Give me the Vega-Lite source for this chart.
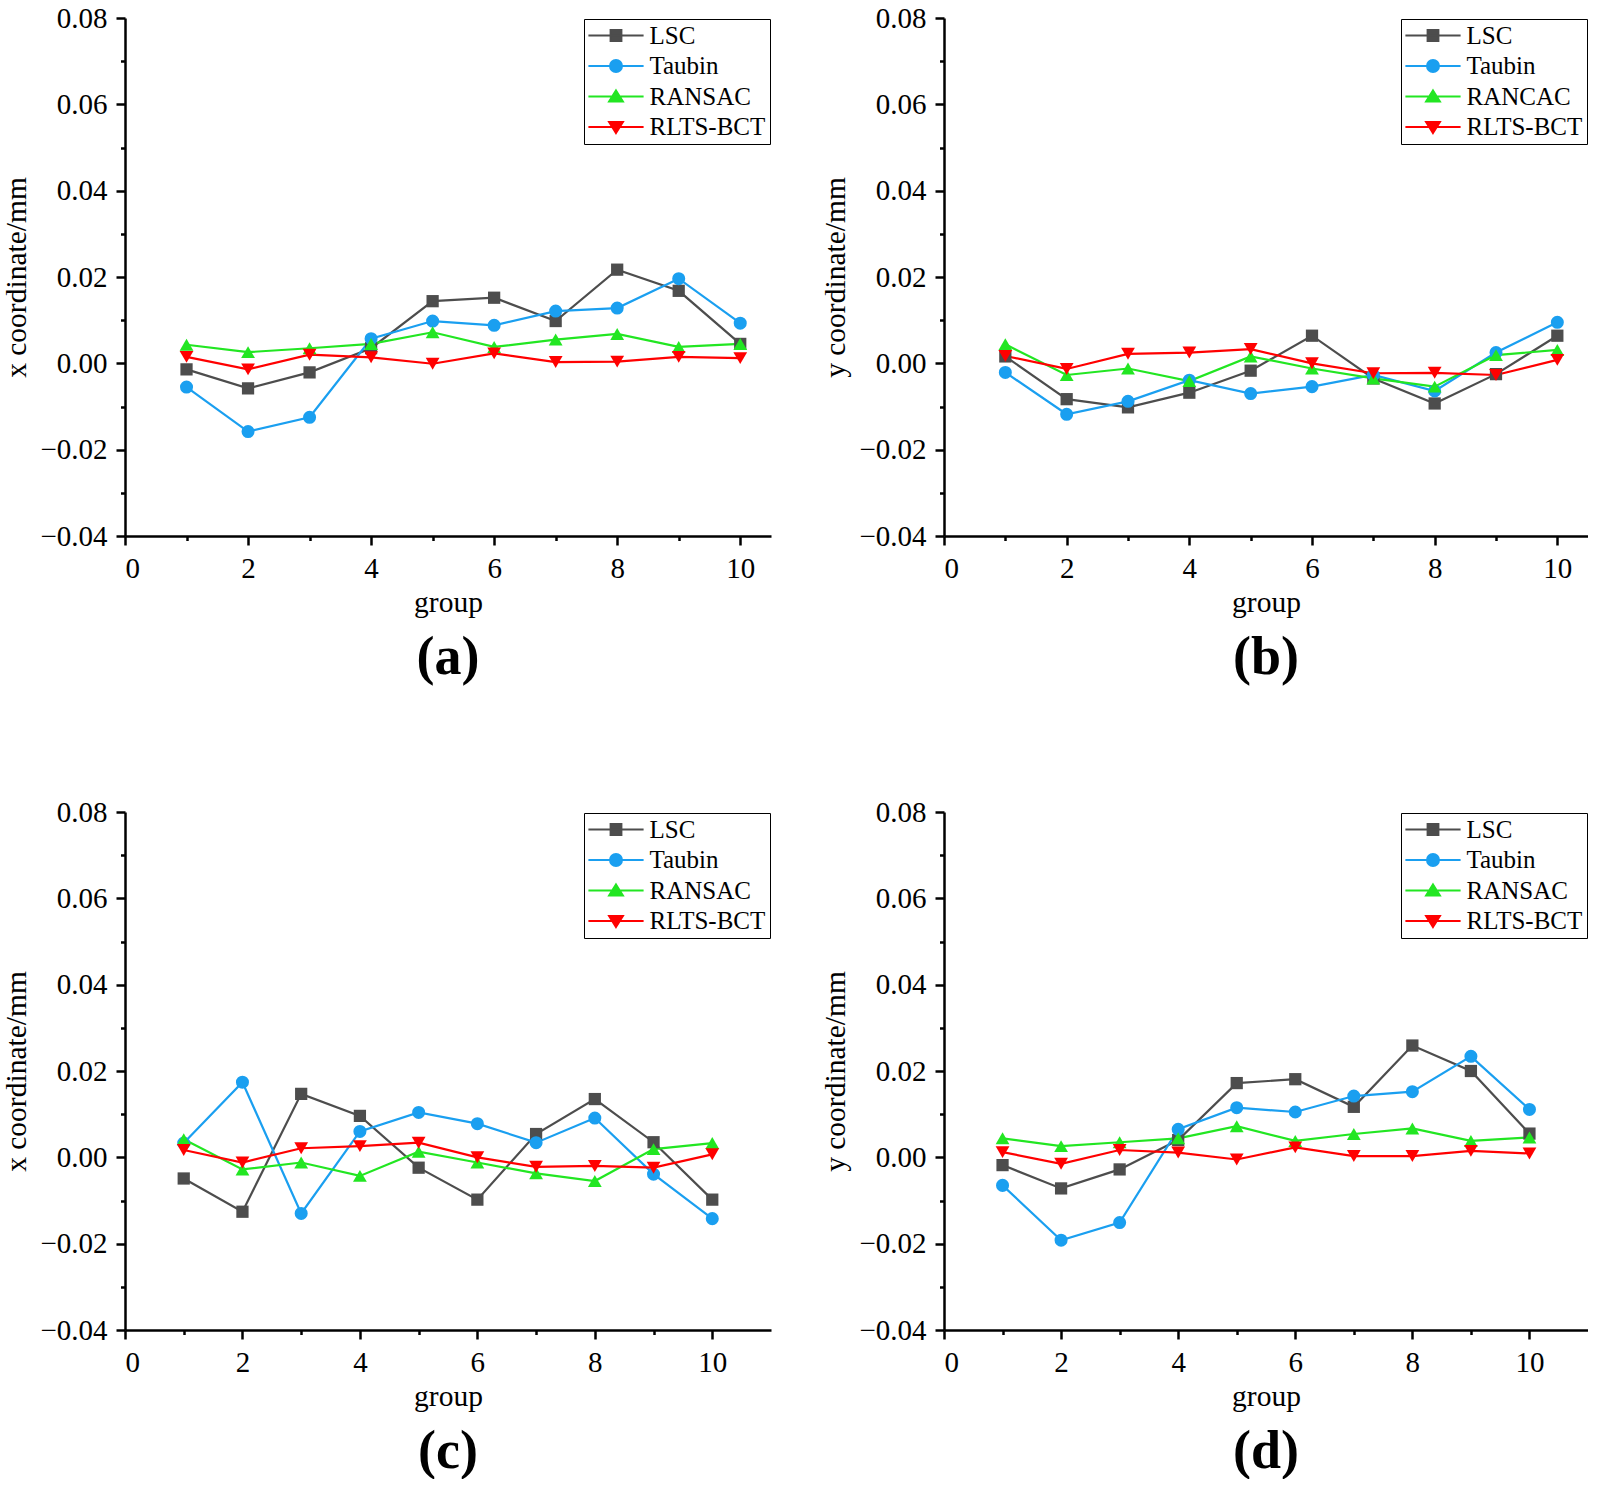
{
  "$schema": "https://vega.github.io/schema/vega-lite/v6.json",
  "background": "white",
  "padding": {"left": 1, "top": 4, "right": 0, "bottom": 0},
  "datasets": {
    "a": [
      {"group":1,"method":"LSC","value":-0.0014},{"group":2,"method":"LSC","value":-0.0058},{"group":3,"method":"LSC","value":-0.0021},{"group":4,"method":"LSC","value":0.0035},{"group":5,"method":"LSC","value":0.0144},{"group":6,"method":"LSC","value":0.0152},{"group":7,"method":"LSC","value":0.0098},{"group":8,"method":"LSC","value":0.0217},{"group":9,"method":"LSC","value":0.0168},{"group":10,"method":"LSC","value":0.0045},
      {"group":1,"method":"Taubin","value":-0.0055},{"group":2,"method":"Taubin","value":-0.0158},{"group":3,"method":"Taubin","value":-0.0125},{"group":4,"method":"Taubin","value":0.0057},{"group":5,"method":"Taubin","value":0.0098},{"group":6,"method":"Taubin","value":0.0088},{"group":7,"method":"Taubin","value":0.0121},{"group":8,"method":"Taubin","value":0.0128},{"group":9,"method":"Taubin","value":0.0196},{"group":10,"method":"Taubin","value":0.0093},
      {"group":1,"method":"RANSAC","value":0.0043},{"group":2,"method":"RANSAC","value":0.0026},{"group":3,"method":"RANSAC","value":0.0035},{"group":4,"method":"RANSAC","value":0.0045},{"group":5,"method":"RANSAC","value":0.0072},{"group":6,"method":"RANSAC","value":0.0038},{"group":7,"method":"RANSAC","value":0.0055},{"group":8,"method":"RANSAC","value":0.0068},{"group":9,"method":"RANSAC","value":0.0038},{"group":10,"method":"RANSAC","value":0.0045},
      {"group":1,"method":"RLTS-BCT","value":0.0015},{"group":2,"method":"RLTS-BCT","value":-0.0014},{"group":3,"method":"RLTS-BCT","value":0.0020},{"group":4,"method":"RLTS-BCT","value":0.0014},{"group":5,"method":"RLTS-BCT","value":-0.0001},{"group":6,"method":"RLTS-BCT","value":0.0023},{"group":7,"method":"RLTS-BCT","value":0.0003},{"group":8,"method":"RLTS-BCT","value":0.0004},{"group":9,"method":"RLTS-BCT","value":0.0015},{"group":10,"method":"RLTS-BCT","value":0.0012}
    ],
    "b": [
      {"group":1,"method":"LSC","value":0.0016},{"group":2,"method":"LSC","value":-0.0083},{"group":3,"method":"LSC","value":-0.0102},{"group":4,"method":"LSC","value":-0.0068},{"group":5,"method":"LSC","value":-0.0017},{"group":6,"method":"LSC","value":0.0064},{"group":7,"method":"LSC","value":-0.0035},{"group":8,"method":"LSC","value":-0.0093},{"group":9,"method":"LSC","value":-0.0025},{"group":10,"method":"LSC","value":0.0064},
      {"group":1,"method":"Taubin","value":-0.0021},{"group":2,"method":"Taubin","value":-0.0118},{"group":3,"method":"Taubin","value":-0.0088},{"group":4,"method":"Taubin","value":-0.0039},{"group":5,"method":"Taubin","value":-0.0070},{"group":6,"method":"Taubin","value":-0.0054},{"group":7,"method":"Taubin","value":-0.0027},{"group":8,"method":"Taubin","value":-0.0064},{"group":9,"method":"Taubin","value":0.0025},{"group":10,"method":"Taubin","value":0.0095},
      {"group":1,"method":"RANCAC","value":0.0044},{"group":2,"method":"RANCAC","value":-0.0027},{"group":3,"method":"RANCAC","value":-0.0012},{"group":4,"method":"RANCAC","value":-0.0041},{"group":5,"method":"RANCAC","value":0.0016},{"group":6,"method":"RANCAC","value":-0.0012},{"group":7,"method":"RANCAC","value":-0.0035},{"group":8,"method":"RANCAC","value":-0.0054},{"group":9,"method":"RANCAC","value":0.0019},{"group":10,"method":"RANCAC","value":0.0031},
      {"group":1,"method":"RLTS-BCT","value":0.0017},{"group":2,"method":"RLTS-BCT","value":-0.0013},{"group":3,"method":"RLTS-BCT","value":0.0022},{"group":4,"method":"RLTS-BCT","value":0.0025},{"group":5,"method":"RLTS-BCT","value":0.0033},{"group":6,"method":"RLTS-BCT","value":0.0000},{"group":7,"method":"RLTS-BCT","value":-0.0023},{"group":8,"method":"RLTS-BCT","value":-0.0022},{"group":9,"method":"RLTS-BCT","value":-0.0027},{"group":10,"method":"RLTS-BCT","value":0.0008}
    ],
    "c": [
      {"group":1,"method":"LSC","value":-0.0049},{"group":2,"method":"LSC","value":-0.0126},{"group":3,"method":"LSC","value":0.0147},{"group":4,"method":"LSC","value":0.0096},{"group":5,"method":"LSC","value":-0.0024},{"group":6,"method":"LSC","value":-0.0098},{"group":7,"method":"LSC","value":0.0054},{"group":8,"method":"LSC","value":0.0135},{"group":9,"method":"LSC","value":0.0035},{"group":10,"method":"LSC","value":-0.0098},
      {"group":1,"method":"Taubin","value":0.0033},{"group":2,"method":"Taubin","value":0.0174},{"group":3,"method":"Taubin","value":-0.0130},{"group":4,"method":"Taubin","value":0.0060},{"group":5,"method":"Taubin","value":0.0104},{"group":6,"method":"Taubin","value":0.0078},{"group":7,"method":"Taubin","value":0.0034},{"group":8,"method":"Taubin","value":0.0091},{"group":9,"method":"Taubin","value":-0.0039},{"group":10,"method":"Taubin","value":-0.0142},
      {"group":1,"method":"RANSAC","value":0.0042},{"group":2,"method":"RANSAC","value":-0.0028},{"group":3,"method":"RANSAC","value":-0.0012},{"group":4,"method":"RANSAC","value":-0.0043},{"group":5,"method":"RANSAC","value":0.0013},{"group":6,"method":"RANSAC","value":-0.0012},{"group":7,"method":"RANSAC","value":-0.0037},{"group":8,"method":"RANSAC","value":-0.0055},{"group":9,"method":"RANSAC","value":0.0019},{"group":10,"method":"RANSAC","value":0.0033},
      {"group":1,"method":"RLTS-BCT","value":0.0017},{"group":2,"method":"RLTS-BCT","value":-0.0012},{"group":3,"method":"RLTS-BCT","value":0.0021},{"group":4,"method":"RLTS-BCT","value":0.0026},{"group":5,"method":"RLTS-BCT","value":0.0034},{"group":6,"method":"RLTS-BCT","value":0.0000},{"group":7,"method":"RLTS-BCT","value":-0.0022},{"group":8,"method":"RLTS-BCT","value":-0.0020},{"group":9,"method":"RLTS-BCT","value":-0.0024},{"group":10,"method":"RLTS-BCT","value":0.0007}
    ],
    "d": [
      {"group":1,"method":"LSC","value":-0.0018},{"group":2,"method":"LSC","value":-0.0072},{"group":3,"method":"LSC","value":-0.0028},{"group":4,"method":"LSC","value":0.0040},{"group":5,"method":"LSC","value":0.0172},{"group":6,"method":"LSC","value":0.0181},{"group":7,"method":"LSC","value":0.0117},{"group":8,"method":"LSC","value":0.0259},{"group":9,"method":"LSC","value":0.0200},{"group":10,"method":"LSC","value":0.0055},
      {"group":1,"method":"Taubin","value":-0.0065},{"group":2,"method":"Taubin","value":-0.0192},{"group":3,"method":"Taubin","value":-0.0151},{"group":4,"method":"Taubin","value":0.0065},{"group":5,"method":"Taubin","value":0.0115},{"group":6,"method":"Taubin","value":0.0105},{"group":7,"method":"Taubin","value":0.0142},{"group":8,"method":"Taubin","value":0.0152},{"group":9,"method":"Taubin","value":0.0234},{"group":10,"method":"Taubin","value":0.0111},
      {"group":1,"method":"RANSAC","value":0.0044},{"group":2,"method":"RANSAC","value":0.0026},{"group":3,"method":"RANSAC","value":0.0035},{"group":4,"method":"RANSAC","value":0.0044},{"group":5,"method":"RANSAC","value":0.0072},{"group":6,"method":"RANSAC","value":0.0038},{"group":7,"method":"RANSAC","value":0.0054},{"group":8,"method":"RANSAC","value":0.0067},{"group":9,"method":"RANSAC","value":0.0038},{"group":10,"method":"RANSAC","value":0.0046},
      {"group":1,"method":"RLTS-BCT","value":0.0012},{"group":2,"method":"RLTS-BCT","value":-0.0015},{"group":3,"method":"RLTS-BCT","value":0.0017},{"group":4,"method":"RLTS-BCT","value":0.0011},{"group":5,"method":"RLTS-BCT","value":-0.0005},{"group":6,"method":"RLTS-BCT","value":0.0023},{"group":7,"method":"RLTS-BCT","value":0.0003},{"group":8,"method":"RLTS-BCT","value":0.0003},{"group":9,"method":"RLTS-BCT","value":0.0015},{"group":10,"method":"RLTS-BCT","value":0.0009}
    ]
  },
  "config": {
    "font": "Liberation Serif",
    "view": {"stroke": null},
    "axis": {
      "labelFont": "Liberation Serif", "labelFontSize": 29, "labelColor": "black",
      "titleFont": "Liberation Serif", "titleFontSize": 29.5, "titleFontWeight": "normal", "titleColor": "black",
      "domainColor": "black", "domainWidth": 2.5, "tickColor": "black", "tickWidth": 2.5, "grid": false
    },
    "axisY": {"labelFont": "Liberation Serif", "titleFont": "Liberation Serif", "labelPadding": 9, "titlePadding": 8},
    "axisX": {"labelFont": "Liberation Serif", "titleFont": "Liberation Serif", "labelPadding": 9, "titlePadding": 5},
    "legend": {
      "title": null, "orient": "top-right", "offset": 1,
      "labelFont": "Liberation Serif", "labelFontSize": 25, "labelColor": "black",
      "strokeColor": "black", "fillColor": "white", "padding": 4,
      "symbolSize": 144, "symbolOffset": 15.5, "labelOffset": 21, "rowPadding": 4.5, "symbolStrokeWidth": 2
    },
    "title": {"font": "Liberation Serif", "fontSize": 54, "fontWeight": "bold", "color": "black", "orient": "bottom", "anchor": "middle", "offset": 14}
  },
  "vconcat": [
    {
      "hconcat": [
        {
          "width": 646, "height": 518,
          "data": {"name": "a"},
          "title": {"text": "(a)"},
          "encoding": {
            "x": {"field": "group", "type": "quantitative", "scale": {"domain": [0, 10.5], "nice": false, "zero": false},
                  "axis": {"title": "group", "format": "d", "values": [0,1,2,3,4,5,6,7,8,9,10], "labelExpr": "datum.value % 2 === 0 ? datum.label : ''", "tickSize": {"condition": {"test": "datum.value % 2 === 0", "value": 9}, "value": 4.5}}},
            "y": {"field": "value", "type": "quantitative", "scale": {"domain": [-0.04, 0.08], "nice": false},
                  "axis": {"title": "x coordinate/mm", "format": ".2f", "values": [-0.04,-0.03,-0.02,-0.01,0,0.01,0.02,0.03,0.04,0.05,0.06,0.07,0.08], "labelExpr": "round(datum.value*100) % 2 === 0 ? datum.label : ''", "tickSize": {"condition": {"test": "round(datum.value*100) % 2 === 0", "value": 9}, "value": 4.5}}}
          },
          "layer": [
            {"mark": {"type": "line", "strokeWidth": 2.2},
             "encoding": {
               "stroke": {"field": "method", "type": "nominal", "sort": null,
                          "scale": {"domain": ["LSC","Taubin","RANSAC","RLTS-BCT"], "range": ["#4d4d4d","#1a9ff0","#22e622","#ff0000"]},
                          "legend": {
                            "symbolStrokeWidth": 2,
                            "symbolType": {"expr": "datum.value === 'LSC' ? 'M-4.6,0H4.6M-0.9,-0.9H0.9V0.9H-0.9Z' : datum.value === 'Taubin' ? 'M-4.6,0H4.6M-1,0A1,1,0,1,1,1,0A1,1,0,1,1,-1,0Z' : datum.value === 'RLTS-BCT' ? 'M-4.6,0H4.6M0,1L1.15,-0.85L-1.15,-0.85Z' : 'M-4.6,0H4.6M0,-1L1.15,0.85L-1.15,0.85Z'"},
                            "symbolFillColor": {"expr": "datum.value === 'LSC' ? '#4d4d4d' : datum.value === 'Taubin' ? '#1a9ff0' : datum.value === 'RLTS-BCT' ? '#ff0000' : '#22e622'"},
                            "symbolStrokeColor": {"expr": "datum.value === 'LSC' ? '#4d4d4d' : datum.value === 'Taubin' ? '#1a9ff0' : datum.value === 'RLTS-BCT' ? '#ff0000' : '#22e622'"}}}
             }},
            {"transform": [{"filter": "datum.method === 'LSC'"}], "mark": {"type": "point", "shape": "square", "filled": true, "fill": "#4d4d4d", "size": 150, "opacity": 1}},
            {"transform": [{"filter": "datum.method === 'Taubin'"}], "mark": {"type": "point", "shape": "circle", "filled": true, "fill": "#1a9ff0", "size": 170, "opacity": 1}},
            {"transform": [{"filter": "datum.method === 'RANSAC'"}], "mark": {"type": "point", "shape": "triangle-up", "filled": true, "fill": "#22e622", "size": 190, "opacity": 1}},
            {"transform": [{"filter": "datum.method === 'RLTS-BCT'"}], "mark": {"type": "point", "shape": "triangle-down", "filled": true, "fill": "#ff0000", "size": 190, "opacity": 1}}
          ]
        },
        {
          "width": 644, "height": 518,
          "data": {"name": "b"},
          "title": {"text": "(b)"},
          "encoding": {
            "x": {"field": "group", "type": "quantitative", "scale": {"domain": [0, 10.5], "nice": false, "zero": false},
                  "axis": {"title": "group", "format": "d", "values": [0,1,2,3,4,5,6,7,8,9,10], "labelExpr": "datum.value % 2 === 0 ? datum.label : ''", "tickSize": {"condition": {"test": "datum.value % 2 === 0", "value": 9}, "value": 4.5}}},
            "y": {"field": "value", "type": "quantitative", "scale": {"domain": [-0.04, 0.08], "nice": false},
                  "axis": {"title": "y coordinate/mm", "format": ".2f", "values": [-0.04,-0.03,-0.02,-0.01,0,0.01,0.02,0.03,0.04,0.05,0.06,0.07,0.08], "labelExpr": "round(datum.value*100) % 2 === 0 ? datum.label : ''", "tickSize": {"condition": {"test": "round(datum.value*100) % 2 === 0", "value": 9}, "value": 4.5}}}
          },
          "layer": [
            {"mark": {"type": "line", "strokeWidth": 2.2},
             "encoding": {
               "stroke": {"field": "method", "type": "nominal", "sort": null,
                          "scale": {"domain": ["LSC","Taubin","RANCAC","RLTS-BCT"], "range": ["#4d4d4d","#1a9ff0","#22e622","#ff0000"]},
                          "legend": {
                            "symbolStrokeWidth": 2,
                            "symbolType": {"expr": "datum.value === 'LSC' ? 'M-4.6,0H4.6M-0.9,-0.9H0.9V0.9H-0.9Z' : datum.value === 'Taubin' ? 'M-4.6,0H4.6M-1,0A1,1,0,1,1,1,0A1,1,0,1,1,-1,0Z' : datum.value === 'RLTS-BCT' ? 'M-4.6,0H4.6M0,1L1.15,-0.85L-1.15,-0.85Z' : 'M-4.6,0H4.6M0,-1L1.15,0.85L-1.15,0.85Z'"},
                            "symbolFillColor": {"expr": "datum.value === 'LSC' ? '#4d4d4d' : datum.value === 'Taubin' ? '#1a9ff0' : datum.value === 'RLTS-BCT' ? '#ff0000' : '#22e622'"},
                            "symbolStrokeColor": {"expr": "datum.value === 'LSC' ? '#4d4d4d' : datum.value === 'Taubin' ? '#1a9ff0' : datum.value === 'RLTS-BCT' ? '#ff0000' : '#22e622'"}}}
             }},
            {"transform": [{"filter": "datum.method === 'LSC'"}], "mark": {"type": "point", "shape": "square", "filled": true, "fill": "#4d4d4d", "size": 150, "opacity": 1}},
            {"transform": [{"filter": "datum.method === 'Taubin'"}], "mark": {"type": "point", "shape": "circle", "filled": true, "fill": "#1a9ff0", "size": 170, "opacity": 1}},
            {"transform": [{"filter": "datum.method === 'RANCAC'"}], "mark": {"type": "point", "shape": "triangle-up", "filled": true, "fill": "#22e622", "size": 190, "opacity": 1}},
            {"transform": [{"filter": "datum.method === 'RLTS-BCT'"}], "mark": {"type": "point", "shape": "triangle-down", "filled": true, "fill": "#ff0000", "size": 190, "opacity": 1}}
          ]
        }
      ],
      "spacing": 49,
      "resolve": {"scale": {"stroke": "independent", "x": "independent", "y": "independent"}, "legend": {"stroke": "independent"}}
    },
    {
      "hconcat": [
        {
          "width": 646, "height": 518,
          "data": {"name": "c"},
          "title": {"text": "(c)"},
          "encoding": {
            "x": {"field": "group", "type": "quantitative", "scale": {"domain": [0, 11], "nice": false, "zero": false},
                  "axis": {"title": "group", "format": "d", "values": [0,1,2,3,4,5,6,7,8,9,10], "labelExpr": "datum.value % 2 === 0 ? datum.label : ''", "tickSize": {"condition": {"test": "datum.value % 2 === 0", "value": 9}, "value": 4.5}}},
            "y": {"field": "value", "type": "quantitative", "scale": {"domain": [-0.04, 0.08], "nice": false},
                  "axis": {"title": "x coordinate/mm", "format": ".2f", "values": [-0.04,-0.03,-0.02,-0.01,0,0.01,0.02,0.03,0.04,0.05,0.06,0.07,0.08], "labelExpr": "round(datum.value*100) % 2 === 0 ? datum.label : ''", "tickSize": {"condition": {"test": "round(datum.value*100) % 2 === 0", "value": 9}, "value": 4.5}}}
          },
          "layer": [
            {"mark": {"type": "line", "strokeWidth": 2.2},
             "encoding": {
               "stroke": {"field": "method", "type": "nominal", "sort": null,
                          "scale": {"domain": ["LSC","Taubin","RANSAC","RLTS-BCT"], "range": ["#4d4d4d","#1a9ff0","#22e622","#ff0000"]},
                          "legend": {
                            "symbolStrokeWidth": 2,
                            "symbolType": {"expr": "datum.value === 'LSC' ? 'M-4.6,0H4.6M-0.9,-0.9H0.9V0.9H-0.9Z' : datum.value === 'Taubin' ? 'M-4.6,0H4.6M-1,0A1,1,0,1,1,1,0A1,1,0,1,1,-1,0Z' : datum.value === 'RLTS-BCT' ? 'M-4.6,0H4.6M0,1L1.15,-0.85L-1.15,-0.85Z' : 'M-4.6,0H4.6M0,-1L1.15,0.85L-1.15,0.85Z'"},
                            "symbolFillColor": {"expr": "datum.value === 'LSC' ? '#4d4d4d' : datum.value === 'Taubin' ? '#1a9ff0' : datum.value === 'RLTS-BCT' ? '#ff0000' : '#22e622'"},
                            "symbolStrokeColor": {"expr": "datum.value === 'LSC' ? '#4d4d4d' : datum.value === 'Taubin' ? '#1a9ff0' : datum.value === 'RLTS-BCT' ? '#ff0000' : '#22e622'"}}}
             }},
            {"transform": [{"filter": "datum.method === 'LSC'"}], "mark": {"type": "point", "shape": "square", "filled": true, "fill": "#4d4d4d", "size": 150, "opacity": 1}},
            {"transform": [{"filter": "datum.method === 'Taubin'"}], "mark": {"type": "point", "shape": "circle", "filled": true, "fill": "#1a9ff0", "size": 170, "opacity": 1}},
            {"transform": [{"filter": "datum.method === 'RANSAC'"}], "mark": {"type": "point", "shape": "triangle-up", "filled": true, "fill": "#22e622", "size": 190, "opacity": 1}},
            {"transform": [{"filter": "datum.method === 'RLTS-BCT'"}], "mark": {"type": "point", "shape": "triangle-down", "filled": true, "fill": "#ff0000", "size": 190, "opacity": 1}}
          ]
        },
        {
          "width": 644, "height": 518,
          "data": {"name": "d"},
          "title": {"text": "(d)"},
          "encoding": {
            "x": {"field": "group", "type": "quantitative", "scale": {"domain": [0, 11], "nice": false, "zero": false},
                  "axis": {"title": "group", "format": "d", "values": [0,1,2,3,4,5,6,7,8,9,10], "labelExpr": "datum.value % 2 === 0 ? datum.label : ''", "tickSize": {"condition": {"test": "datum.value % 2 === 0", "value": 9}, "value": 4.5}}},
            "y": {"field": "value", "type": "quantitative", "scale": {"domain": [-0.04, 0.08], "nice": false},
                  "axis": {"title": "y coordinate/mm", "format": ".2f", "values": [-0.04,-0.03,-0.02,-0.01,0,0.01,0.02,0.03,0.04,0.05,0.06,0.07,0.08], "labelExpr": "round(datum.value*100) % 2 === 0 ? datum.label : ''", "tickSize": {"condition": {"test": "round(datum.value*100) % 2 === 0", "value": 9}, "value": 4.5}}}
          },
          "layer": [
            {"mark": {"type": "line", "strokeWidth": 2.2},
             "encoding": {
               "stroke": {"field": "method", "type": "nominal", "sort": null,
                          "scale": {"domain": ["LSC","Taubin","RANSAC","RLTS-BCT"], "range": ["#4d4d4d","#1a9ff0","#22e622","#ff0000"]},
                          "legend": {
                            "symbolStrokeWidth": 2,
                            "symbolType": {"expr": "datum.value === 'LSC' ? 'M-4.6,0H4.6M-0.9,-0.9H0.9V0.9H-0.9Z' : datum.value === 'Taubin' ? 'M-4.6,0H4.6M-1,0A1,1,0,1,1,1,0A1,1,0,1,1,-1,0Z' : datum.value === 'RLTS-BCT' ? 'M-4.6,0H4.6M0,1L1.15,-0.85L-1.15,-0.85Z' : 'M-4.6,0H4.6M0,-1L1.15,0.85L-1.15,0.85Z'"},
                            "symbolFillColor": {"expr": "datum.value === 'LSC' ? '#4d4d4d' : datum.value === 'Taubin' ? '#1a9ff0' : datum.value === 'RLTS-BCT' ? '#ff0000' : '#22e622'"},
                            "symbolStrokeColor": {"expr": "datum.value === 'LSC' ? '#4d4d4d' : datum.value === 'Taubin' ? '#1a9ff0' : datum.value === 'RLTS-BCT' ? '#ff0000' : '#22e622'"}}}
             }},
            {"transform": [{"filter": "datum.method === 'LSC'"}], "mark": {"type": "point", "shape": "square", "filled": true, "fill": "#4d4d4d", "size": 150, "opacity": 1}},
            {"transform": [{"filter": "datum.method === 'Taubin'"}], "mark": {"type": "point", "shape": "circle", "filled": true, "fill": "#1a9ff0", "size": 170, "opacity": 1}},
            {"transform": [{"filter": "datum.method === 'RANSAC'"}], "mark": {"type": "point", "shape": "triangle-up", "filled": true, "fill": "#22e622", "size": 190, "opacity": 1}},
            {"transform": [{"filter": "datum.method === 'RLTS-BCT'"}], "mark": {"type": "point", "shape": "triangle-down", "filled": true, "fill": "#ff0000", "size": 190, "opacity": 1}}
          ]
        }
      ],
      "spacing": 49,
      "resolve": {"scale": {"stroke": "independent", "x": "independent", "y": "independent"}, "legend": {"stroke": "independent"}}
    }
  ],
  "spacing": 113,
  "resolve": {"scale": {"stroke": "independent", "x": "independent", "y": "independent"}, "legend": {"stroke": "independent"}}
}
